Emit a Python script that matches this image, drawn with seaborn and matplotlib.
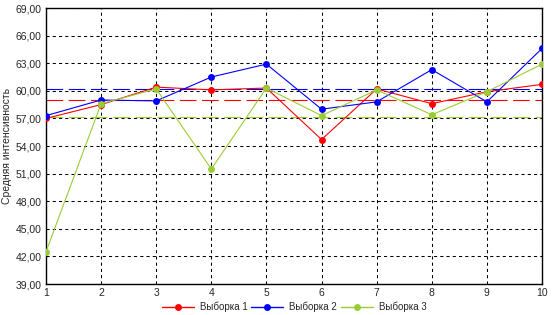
import matplotlib
matplotlib.use("Agg")
import matplotlib.pyplot as plt
import seaborn as sns
import pandas as pd
import numpy as np
from matplotlib.ticker import MultipleLocator, FuncFormatter
from matplotlib.lines import Line2D

x_vals = [1, 2, 3, 4, 5, 6, 7, 8, 9, 10]
series_names = ["Выборка 1", "Выборка 2", "Выборка 3"]
s1 = [57.0, 58.5, 60.4, 60.1, 60.3, 54.7, 60.2, 58.6, 59.9, 60.7]
s2 = [57.3, 59.0, 58.9, 61.5, 62.9, 58.0, 58.8, 62.3, 58.8, 64.6]
s3 = [42.5, 58.6, 60.2, 51.5, 60.3, 57.3, 60.1, 57.4, 59.9, 62.9]
means = [59.0, 60.2, 57.1]
colors = ["#FF0000", "#0000FF", "#9ACD32"]

sns.set_style("white")
plt.rcParams['font.family'] = ['Liberation Sans Narrow', 'Liberation Sans', 'DejaVu Sans']

df = pd.DataFrame({
    "x": x_vals * 3,
    "y": s1 + s2 + s3,
    "series": [series_names[0]] * 10 + [series_names[1]] * 10 + [series_names[2]] * 10,
})

fig = plt.figure(figsize=(5.52, 3.15), dpi=100)
ax = fig.add_axes([46/552, 1 - 284/315, (542-46)/552, (284-8)/315])

ax.set_xlim(1, 10)
ax.set_ylim(39, 69)
ax.xaxis.set_major_locator(MultipleLocator(1))
ax.xaxis.set_minor_locator(MultipleLocator(0.5))
ax.yaxis.set_major_locator(MultipleLocator(3))
ax.yaxis.set_minor_locator(MultipleLocator(1.5))
ax.grid(True, which="major", color="black", linestyle=(0, (3, 3)), linewidth=0.75)
ax.set_axisbelow(True)

# mean lines
for m, c in zip(means, colors):
    ax.axhline(m, color=c, linestyle=(0, (15, 5)), linewidth=0.8, zorder=1.5)

sns.lineplot(data=df, x="x", y="y", hue="series", palette=colors,
             marker="o", markersize=5, markeredgewidth=0, linewidth=0.8,
             ax=ax, legend=False, zorder=3)

ax.yaxis.set_major_formatter(FuncFormatter(lambda v, p: f"{v:.2f}".replace(".", ",")))
ax.xaxis.set_major_formatter(FuncFormatter(lambda v, p: f"{int(round(v))}"))
ax.tick_params(axis="both", which="both", direction="in", labelsize=7.5, color="black")
ax.tick_params(axis="both", which="major", length=0, pad=3)
ax.tick_params(axis="both", which="minor", length=3, width=0.8)
for s in ax.spines.values():
    s.set_color("black")
    s.set_linewidth(1.0)

ax.set_xlabel("")
ax.set_ylabel("Средняя интенсивность", fontsize=7.5, labelpad=3)

handles = [Line2D([0], [0], color=c, marker="o", markersize=5, markeredgewidth=0, linewidth=1.0) for c in colors]
fig.legend(handles, series_names, loc="center", bbox_to_anchor=(294/552, 1 - 307/315),
           ncol=3, frameon=False, fontsize=7, handlelength=3.3, columnspacing=0.4,
           handletextpad=0.6)

fig.savefig("out.png", dpi=100)
